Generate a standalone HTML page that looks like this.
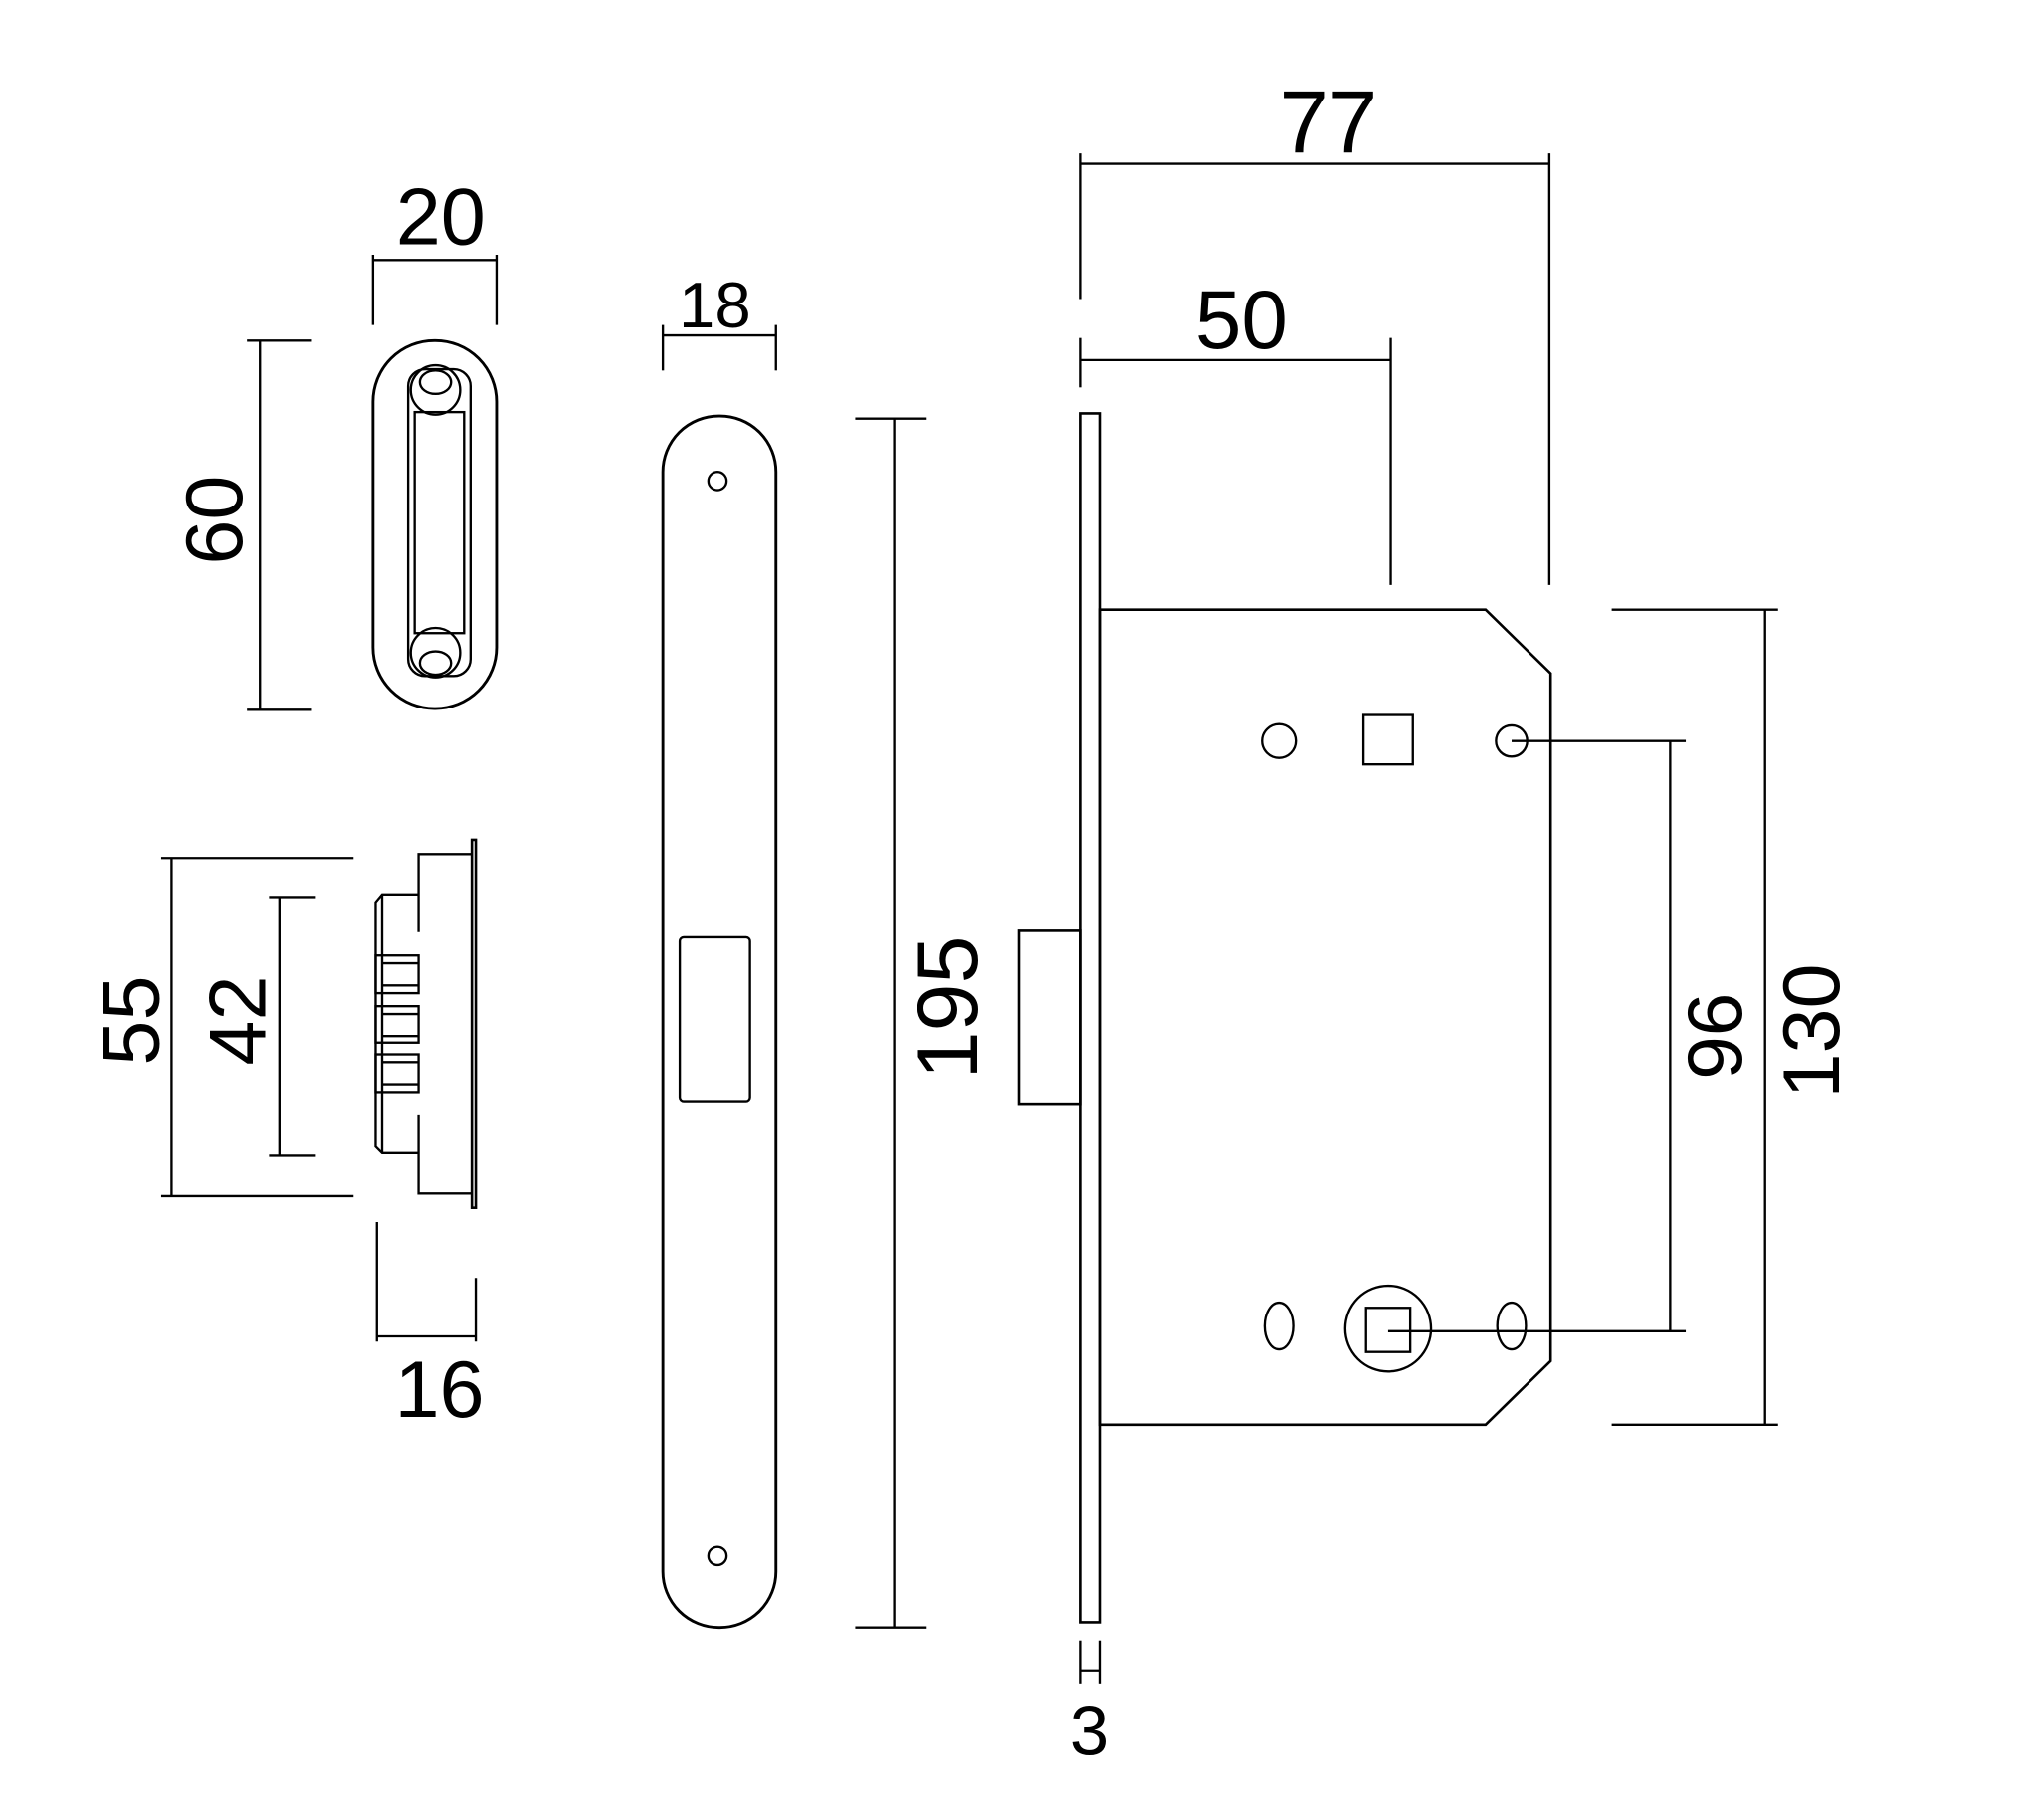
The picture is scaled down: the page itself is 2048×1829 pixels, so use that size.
<!DOCTYPE html>
<html><head><meta charset="utf-8"><style>
html,body{margin:0;padding:0;background:#fff;}
svg{display:block;}
text{font-family:"Liberation Sans",sans-serif;fill:#000;}
</style></head><body>
<svg width="2048" height="1829" viewBox="0 0 1568 1400" preserveAspectRatio="none" xmlns="http://www.w3.org/2000/svg">
<g fill="none" stroke="#000" stroke-width="1.8">
<!-- keeper top -->
<rect x="287" y="262" width="95" height="283" rx="47" stroke-width="2.2"/>
<rect x="314" y="284" width="48" height="236" rx="13"/>
<rect x="319" y="317" width="38" height="170"/>
<circle cx="335" cy="300" r="19"/>
<ellipse cx="335" cy="294" rx="12" ry="9"/>
<circle cx="335" cy="502" r="19"/>
<ellipse cx="335" cy="510" rx="12" ry="9"/>
<!-- 20 -->
<line x1="287" y1="200" x2="382" y2="200"/>
<line x1="287" y1="196" x2="287" y2="250"/>
<line x1="382" y1="196" x2="382" y2="250"/>
<!-- 60 -->
<line x1="200" y1="262" x2="200" y2="546"/>
<line x1="190" y1="262" x2="240" y2="262"/>
<line x1="190" y1="546" x2="240" y2="546"/>
<!-- side view -->
<rect x="363" y="646" width="3" height="283" stroke-width="2"/>
<polyline points="322,717 322,657 363,657"/>
<polyline points="322,858 322,918 363,918"/>
<polyline points="322,688 294,688 289,694 289,882 294,887 322,887"/>
<line x1="294" y1="688" x2="294" y2="887"/>
<rect x="289" y="735" width="33" height="29"/>
<line x1="294" y1="741" x2="322" y2="741"/><line x1="294" y1="758" x2="322" y2="758"/>
<rect x="289" y="774" width="33" height="28"/>
<line x1="294" y1="780" x2="322" y2="780"/><line x1="294" y1="797" x2="322" y2="797"/>
<rect x="289" y="811" width="33" height="29"/>
<line x1="294" y1="817" x2="322" y2="817"/><line x1="294" y1="834" x2="322" y2="834"/>
<!-- 55 / 42 -->
<line x1="132" y1="660" x2="132" y2="920"/>
<line x1="124" y1="660" x2="272" y2="660"/>
<line x1="124" y1="920" x2="272" y2="920"/>
<line x1="215" y1="690" x2="215" y2="889"/>
<line x1="207" y1="690" x2="243" y2="690"/>
<line x1="207" y1="889" x2="243" y2="889"/>
<!-- 16 -->
<line x1="290" y1="940" x2="290" y2="1032"/>
<line x1="366" y1="983" x2="366" y2="1032"/>
<line x1="290" y1="1028" x2="366" y2="1028"/>
<!-- faceplate -->
<rect x="510" y="320" width="87" height="932" rx="43" stroke-width="2.2"/>
<circle cx="552" cy="370" r="7"/>
<circle cx="552" cy="1197" r="7"/>
<rect x="523" y="721" width="54" height="126" rx="3"/>
<!-- 18 -->
<line x1="510" y1="258" x2="597" y2="258"/>
<line x1="510" y1="250" x2="510" y2="285"/>
<line x1="597" y1="250" x2="597" y2="285"/>
<!-- 195 -->
<line x1="688" y1="322" x2="688" y2="1252"/>
<line x1="658" y1="322" x2="713" y2="322"/>
<line x1="658" y1="1252" x2="713" y2="1252"/>
<!-- lock -->
<rect x="831" y="318" width="15" height="930" stroke-width="2"/>
<polygon points="846,469 1143,469 1193,518 1193,1047 1143,1096 846,1096" stroke-width="2"/>
<rect x="784" y="716" width="47" height="133" stroke-width="2"/>
<circle cx="984" cy="570" r="13"/>
<rect x="1049" y="550" width="38" height="38"/>
<circle cx="1163" cy="570" r="12"/>
<ellipse cx="984" cy="1020" rx="11" ry="18"/>
<ellipse cx="1163" cy="1020" rx="11" ry="18"/>
<circle cx="1068" cy="1022" r="33"/>
<rect x="1051" y="1006" width="34" height="34"/>
<line x1="1163" y1="570" x2="1297" y2="570"/>
<line x1="1068" y1="1024" x2="1297" y2="1024"/>
<line x1="1285" y1="570" x2="1285" y2="1024"/>
<line x1="1358" y1="469" x2="1358" y2="1096"/>
<line x1="1240" y1="469" x2="1368" y2="469"/>
<line x1="1240" y1="1096" x2="1368" y2="1096"/>
<!-- 77 -->
<line x1="831" y1="126" x2="1192" y2="126"/>
<line x1="831" y1="118" x2="831" y2="230"/>
<line x1="1192" y1="118" x2="1192" y2="450"/>
<!-- 50 -->
<line x1="831" y1="277" x2="1070" y2="277"/>
<line x1="831" y1="260" x2="831" y2="298"/>
<line x1="1070" y1="260" x2="1070" y2="450"/>
<!-- 3 -->
<line x1="831" y1="1262" x2="831" y2="1295"/>
<line x1="846" y1="1262" x2="846" y2="1295"/>
<line x1="831" y1="1285" x2="846" y2="1285"/>
</g>
<g text-anchor="middle">
<text x="339" y="188" font-size="62">20</text>
<text x="0" y="0" font-size="62" transform="translate(186,400) rotate(-90)">60</text>
<text x="0" y="0" font-size="62" transform="translate(122,785) rotate(-90)">55</text>
<text x="0" y="0" font-size="62" transform="translate(204,785) rotate(-90)">42</text>
<text x="338" y="1090" font-size="62">16</text>
<text x="550" y="252" font-size="50">18</text>
<text x="0" y="0" font-size="66" transform="translate(752,775) rotate(-90)">195</text>
<text x="1022" y="117" font-size="68">77</text>
<text x="955" y="268" font-size="64">50</text>
<text x="838" y="1350" font-size="54">3</text>
<text x="0" y="0" font-size="60" transform="translate(1340,797) rotate(-90)">96</text>
<text x="0" y="0" font-size="62" transform="translate(1415,793) rotate(-90)">130</text>
</g>
</svg>
</body></html>
